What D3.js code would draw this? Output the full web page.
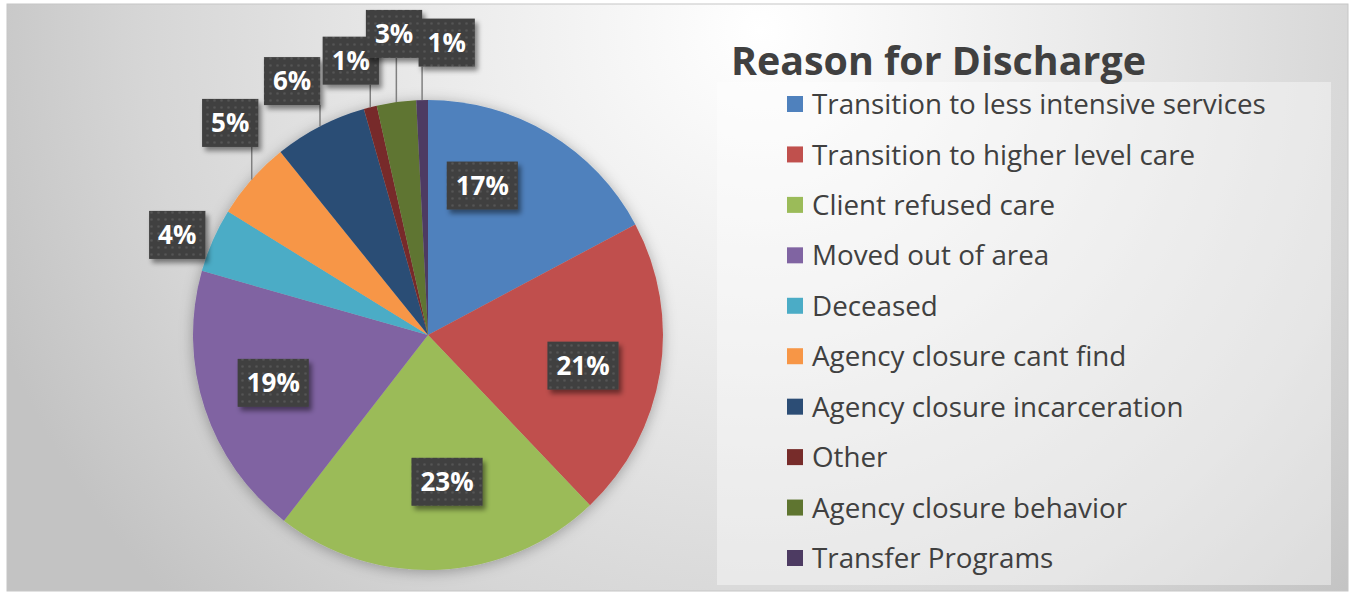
<!DOCTYPE html>
<html>
<head>
<meta charset="utf-8">
<script src="https://cdn.jsdelivr.net/npm/d3@7"></script>
<style>
  body { margin: 0; background: #fff; }
  text { font-family: "Open Sans", "Noto Sans", sans-serif; }
</style>
</head>
<body>
<div id="chart"></div>
<script>
// reasons for discharge, share of clients (percent)
var categories = ["Transition to less intensive services", "Transition to higher level care", "Client refused care",
  "Moved out of area", "Deceased", "Agency closure cant find", "Agency closure incarceration", "Other",
  "Agency closure behavior", "Transfer Programs"];
var values = [17.2, 20.7, 22.6, 18.9, 4.4, 5.4, 6.4, 0.9, 2.7, 0.8];
var colors = ["#4f81bd", "#c0504d", "#9bbb59", "#8064a2", "#4bacc6", "#f79646", "#2c4d75", "#772c2a", "#5f7530", "#4d3b62"];
var title = "Reason for Discharge";

// label placement: [angle shift from slice middle in degrees, distance from centre]
var labelLayout = [[-11, 159], [2, 158], [-4.5, 148], [1, 162], [-2, 270], [5.6, 290], [-0.8, 288], [-1.5, 285], [1.3, 303], [5.1, 293]];

function main() {
  var width = 1351, height = 594;
  var cx = 428, cy = 335, radius = 235;

  var svg = d3.select("#chart").append("svg").attr("width", width).attr("height", height);
  var defs = svg.append("defs");

  var bg = defs.append("radialGradient").attr("id", "bg")
    .attr("gradientUnits", "userSpaceOnUse").attr("cx", 760).attr("cy", 30).attr("r", 820);
  bg.append("stop").attr("offset", 0).attr("stop-color", "#ffffff");
  bg.append("stop").attr("offset", 0.4).attr("stop-color", "#eaeaea");
  bg.append("stop").attr("offset", 0.75).attr("stop-color", "#d6d6d6");
  bg.append("stop").attr("offset", 1).attr("stop-color", "#c3c3c3");

  var pieShadow = defs.append("filter").attr("id", "pieShadow").attr("x", "-20%").attr("y", "-20%").attr("width", "140%").attr("height", "140%");
  pieShadow.append("feDropShadow").attr("dx", 0).attr("dy", 2).attr("stdDeviation", 7)
    .attr("flood-color", "#000").attr("flood-opacity", 0.3);

  var boxShadow = defs.append("filter").attr("id", "boxShadow").attr("x", "-30%").attr("y", "-30%").attr("width", "160%").attr("height", "160%");
  boxShadow.append("feDropShadow").attr("dx", 3).attr("dy", 4).attr("stdDeviation", 2.5)
    .attr("flood-color", "#000").attr("flood-opacity", 0.45);

  var dots = defs.append("pattern").attr("id", "dots").attr("patternUnits", "userSpaceOnUse")
    .attr("width", 7).attr("height", 7);
  dots.append("rect").attr("width", 7).attr("height", 7).attr("fill", "#3f3f3f");
  dots.append("circle").attr("cx", 3.5).attr("cy", 3.5).attr("r", 1.3).attr("fill", "#545454");

  svg.append("rect").attr("x", 7).attr("y", 4).attr("width", 1341).attr("height", 587)
    .attr("fill", "url(#bg)").attr("stroke", "#c6c6c6").attr("stroke-width", 1);

  // pie
  var pie = d3.pie().sort(null).value(function(d) { return d; });
  var arcs = pie(values);
  var total = d3.sum(values);
  var arc = d3.arc().innerRadius(0).outerRadius(radius);

  var g = svg.append("g").attr("transform", "translate(" + cx + "," + cy + ")");
  g.append("g").attr("filter", "url(#pieShadow)")
    .selectAll("path").data(arcs).enter().append("path")
    .attr("d", arc)
    .attr("fill", function(d, i) { return colors[i]; });

  function polar(a, r) { return [r * Math.sin(a), -r * Math.cos(a)]; }

  var labels = arcs.map(function(d, i) {
    var mid = (d.startAngle + d.endAngle) / 2;
    var lay = labelLayout[i];
    var p = polar(mid + lay[0] * Math.PI / 180, lay[1]);
    return { mid: mid, x: p[0], y: p[1], outside: lay[1] > radius, text: Math.round(d.value / total * 100) + "%" };
  });

  var lg = g.append("g");
  var items = lg.selectAll("g.lbl").data(labels).enter().append("g").attr("class", "lbl");
  var texts = items.append("text")
    .attr("x", function(d) { return d.x; })
    .attr("y", function(d) { return d.y; })
    .attr("dy", "0.36em")
    .attr("text-anchor", "middle")
    .attr("font-size", 26).attr("font-weight", 700).attr("fill", "#fff")
    .text(function(d) { return d.text; });

  texts.each(function(d) {
    var w = this.getComputedTextLength() + 18;
    d.x0 = d.x - w / 2; d.x1 = d.x + w / 2;
    d.y0 = d.y - 24; d.y1 = d.y + 24;
  });

  // leader lines for the labels outside the pie
  labels.forEach(function(d) {
    if (!d.outside) return;
    var a = polar(d.mid, radius);
    var nx = Math.max(d.x0, Math.min(d.x1, a[0]));
    var ny = Math.max(d.y0, Math.min(d.y1, a[1]));
    if (Math.hypot(nx - a[0], ny - a[1]) > 9) {
      lg.insert("line", ":first-child")
        .attr("x1", a[0]).attr("y1", a[1]).attr("x2", nx).attr("y2", ny)
        .attr("stroke", "#7f7f7f").attr("stroke-width", 1.5);
    }
  });

  items.insert("rect", "text")
    .attr("x", function(d) { return d.x0; })
    .attr("y", function(d) { return d.y0; })
    .attr("width", function(d) { return d.x1 - d.x0; })
    .attr("height", function(d) { return d.y1 - d.y0; })
    .attr("fill", "url(#dots)")
    .attr("filter", "url(#boxShadow)");

  // legend
  svg.append("rect").attr("x", 717).attr("y", 82).attr("width", 614).attr("height", 503)
    .attr("fill", "#ffffff").attr("fill-opacity", 0.4);

  var t = svg.append("text").attr("x", 0).attr("y", 75)
    .attr("font-size", 40).attr("font-weight", 700).attr("fill", "#404040")
    .text(title);
  var tw = t.node().getComputedTextLength();
  t.attr("transform", "translate(731,0) scale(" + (415 / tw) + ",1)");

  var rowY = d3.scalePoint().domain(categories).range([104, 558]);
  var leg = svg.append("g");
  leg.selectAll("rect").data(categories).enter().append("rect")
    .attr("x", 787).attr("y", function(d) { return rowY(d) - 8; })
    .attr("width", 16).attr("height", 16)
    .attr("fill", function(d, i) { return colors[i]; });

  var lt = leg.append("g");
  var ltexts = lt.selectAll("text").data(categories).enter().append("text")
    .attr("x", 0).attr("y", function(d) { return rowY(d); })
    .attr("dy", "0.36em")
    .attr("font-size", 28).attr("fill", "#404040")
    .text(function(d) { return d; });
  var longest = d3.max(ltexts.nodes(), function(n) { return n.getComputedTextLength(); });
  lt.attr("transform", "translate(812,0) scale(" + (454 / longest) + ",1)");
}

main();
</script>
</body>
</html>
